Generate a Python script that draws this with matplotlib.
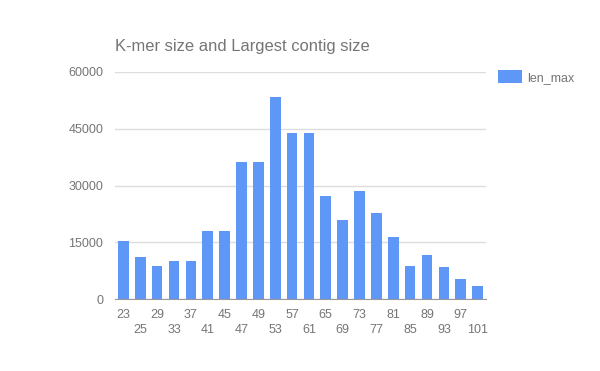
import matplotlib.pyplot as plt

# data
kmer = [23, 25, 29, 33, 37, 41, 45, 47, 49, 53, 57, 61, 65, 69, 73, 77, 81, 85, 89, 93, 97, 101]
len_max = [15400, 11200, 8800, 10100, 10100, 18000, 18000, 36200, 36200, 53300, 43800,
           43800, 27200, 20900, 28600, 22800, 16400, 8800, 11700, 8500, 5400, 3500]
yticks = [0, 15000, 30000, 45000, 60000]

plt.rcParams['font.family'] = ['Liberation Sans', 'DejaVu Sans']
grey = '#757575'
blue = '#5e97f6'

fig = plt.figure(figsize=(6, 3.71), dpi=100)
ax = fig.add_axes([115/600, 1 - 299.3/371, (486-115)/600, (299.3-71.7)/371])

x = list(range(len(kmer)))
ax.bar(x, len_max, width=0.63, color=blue, zorder=2, label='len_max')

ax.set_xlim(-0.5, len(kmer) - 0.5)
ax.set_ylim(0, 60000)
ax.set_yticks(yticks)
ax.set_yticklabels([str(v) for v in yticks])
ax.set_xticks(x)
ax.set_xticklabels([str(k) if i % 2 == 0 else '\n' + str(k) for i, k in enumerate(kmer)],
                   linespacing=1.3)
ax.tick_params(axis='both', length=0, labelsize=9, labelcolor=grey)
ax.tick_params(axis='y', pad=8.5)
ax.tick_params(axis='x', pad=7)

ax.grid(axis='y', color='#dddddd', linewidth=1, zorder=0)
for s in ['top', 'right', 'left']:
    ax.spines[s].set_visible(False)
ax.spines['bottom'].set_color('#999999')
ax.spines['bottom'].set_zorder(3)

fig.text(115/600, 1 - 46/371, 'K-mer size and Largest contig size', fontsize=11.9,
         color=grey, va='center', ha='left')

leg = fig.legend(loc='upper left', bbox_to_anchor=(498/600, 1 - 70/371), frameon=False,
                 fontsize=9, handlelength=1.92, handleheight=1.2, handletextpad=0.4,
                 borderaxespad=0, borderpad=0)
for t in leg.get_texts():
    t.set_color(grey)

fig.savefig('out.png', dpi=100)
